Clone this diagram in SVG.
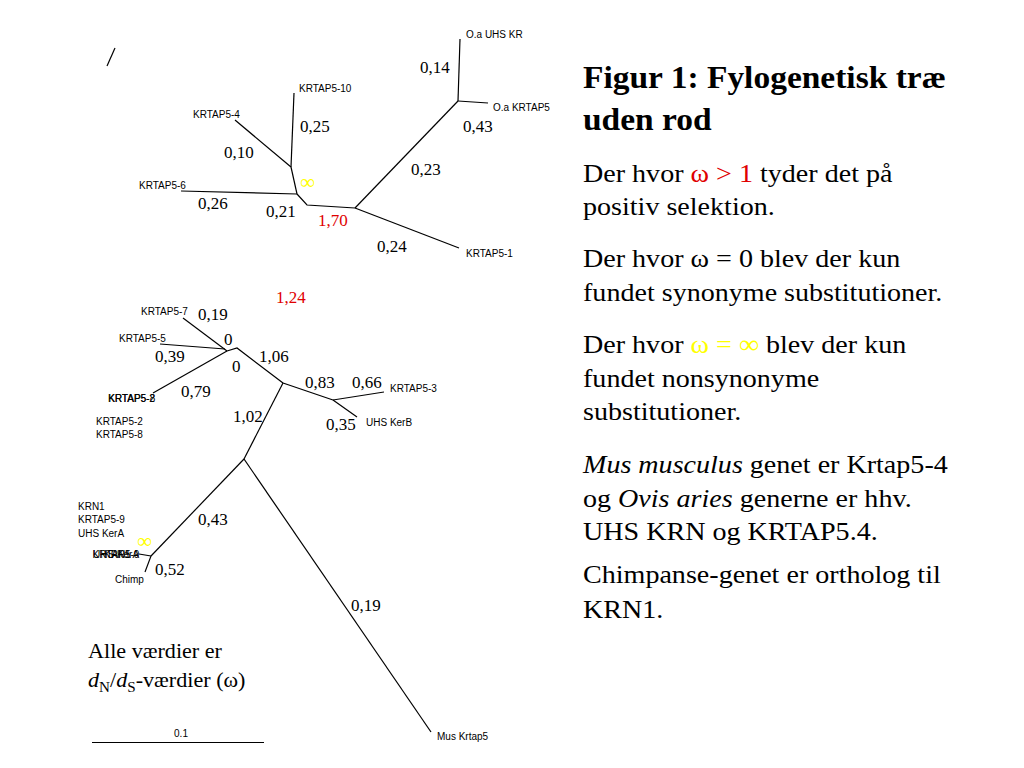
<svg xmlns="http://www.w3.org/2000/svg" width="1024" height="768" viewBox="0 0 1024 768">
<style>
.br{fill:none;stroke:#000;stroke-width:1.2;stroke-linejoin:miter}
.lf{font-family:"Liberation Sans",Arial,sans-serif;font-size:10px;fill:#000}
.num{font-family:"Liberation Serif","Times New Roman",serif;font-size:17px;fill:#000}
.red{fill:#e00000}
.yel{fill:#ffff00}
.inf{font-family:"Liberation Serif","Times New Roman",serif;font-size:21px;fill:#ffff00}
.body{font-family:"Liberation Serif","Times New Roman",serif;font-size:26px;fill:#000}
.title{font-family:"Liberation Serif","Times New Roman",serif;font-size:31px;font-weight:bold;fill:#000}
</style>
<rect width="1024" height="768" fill="#fff"/>

<g id="connectors">
  <line class="br" x1="107" y1="66" x2="115" y2="48"/>
  <!-- top tree -->
  <polyline class="br" points="294,93 291,167"/>
  <polyline class="br" points="235,120 291,167"/>
  <polyline class="br" points="291,167 297,194"/>
  <polyline class="br" points="181,191 297,194"/>
  <polyline class="br" points="297,194 307,205 355,208"/>
  <polyline class="br" points="355,208 458,101"/>
  <polyline class="br" points="458,101 460,39"/>
  <polyline class="br" points="458,101 488,103"/>
  <polyline class="br" points="355,208 459,248"/>
  <!-- bottom tree -->
  <polyline class="br" points="183,318 227,351"/>
  <polyline class="br" points="160,344 225,349"/>
  <polyline class="br" points="153,393 227,351"/>
  <polyline class="br" points="227,351 237,348 283,383"/>
  <polyline class="br" points="283,383 333,400"/>
  <polyline class="br" points="333,400 384,392"/>
  <polyline class="br" points="333,400 357,417"/>
  <polyline class="br" points="283,383 244,459"/>
  <polyline class="br" points="244,459 431,732"/>
  <polyline class="br" points="244,459 151,556"/>
  <polyline class="br" points="139,554 151,556"/>
  <polyline class="br" points="151,556 145,572"/>
  <!-- scale bar -->
  <line class="br" x1="92" y1="742.5" x2="264" y2="742.5"/>
</g>

<g id="edge-labels">
  <text class="num" x="420" y="73">0,14</text>
  <text class="num" x="463" y="132">0,43</text>
  <text class="num" x="411" y="175">0,23</text>
  <text class="num" x="377" y="252">0,24</text>
  <text class="num" x="300" y="132">0,25</text>
  <text class="num" x="224" y="158">0,10</text>
  <text class="num" x="198" y="209">0,26</text>
  <text class="num" x="266" y="217">0,21</text>
  <text class="num red" x="318" y="226">1,70</text>
  <text class="inf" x="300" y="189">∞</text>

  <text class="num red" x="276" y="303">1,24</text>
  <text class="num" x="198" y="320">0,19</text>
  <text class="num" x="224" y="345">0</text>
  <text class="num" x="155" y="362">0,39</text>
  <text class="num" x="232" y="372">0</text>
  <text class="num" x="259" y="362">1,06</text>
  <text class="num" x="181" y="397">0,79</text>
  <text class="num" x="305" y="388">0,83</text>
  <text class="num" x="352" y="388">0,66</text>
  <text class="num" x="326" y="430">0,35</text>
  <text class="num" x="233" y="422">1,02</text>
  <text class="num" x="198" y="525">0,43</text>
  <text class="num" x="155" y="575">0,52</text>
  <text class="num" x="351" y="611">0,19</text>
  <text class="inf" x="137" y="548">∞</text>
</g>

<g id="node-OaUHSKR"><text class="lf" x="466" y="38">O.a UHS KR</text></g>
<g id="node-OaKRTAP5"><text class="lf" x="493" y="111">O.a KRTAP5</text></g>
<g id="node-KRTAP5-1"><text class="lf" x="466" y="257">KRTAP5-1</text></g>
<g id="node-KRTAP5-10"><text class="lf" x="299" y="92">KRTAP5-10</text></g>
<g id="node-KRTAP5-4"><text class="lf" x="193" y="118">KRTAP5-4</text></g>
<g id="node-KRTAP5-6"><text class="lf" x="139" y="189">KRTAP5-6</text></g>

<g id="node-KRTAP5-7"><text class="lf" x="141" y="315">KRTAP5-7</text></g>
<g id="node-KRTAP5-5"><text class="lf" x="119" y="342">KRTAP5-5</text></g>
<g id="node-KRTAP5-8-2">
  <text class="lf" x="108" y="402">KRTAP5-2</text>
  <text class="lf" x="108.4" y="402">KRTAP5-8</text>
</g>
<g id="node-list-2-8">
  <text class="lf" x="96" y="425">KRTAP5-2</text>
  <text class="lf" x="96" y="438">KRTAP5-8</text>
</g>
<g id="node-KRTAP5-3"><text class="lf" x="390" y="392">KRTAP5-3</text></g>
<g id="node-UHSKerB"><text class="lf" x="366" y="426">UHS KerB</text></g>
<g id="node-MusKrtap5"><text class="lf" x="437" y="740">Mus Krtap5</text></g>
<g id="node-list-KRN1">
  <text class="lf" x="78" y="510">KRN1</text>
  <text class="lf" x="78" y="523">KRTAP5-9</text>
  <text class="lf" x="78" y="537">UHS KerA</text>
</g>
<g id="node-KRN1-overlap">
  <text class="lf" x="92.5" y="558">KRTAP5-9</text>
  <text class="lf" x="93" y="558">UHS KerA</text>
  <text class="lf" x="104" y="558">KRN1</text>
</g>
<g id="node-Chimp"><text class="lf" x="115" y="583">Chimp</text></g>

<g id="scale-label"><text class="lf" x="181" y="737" text-anchor="middle">0.1</text></g>

<g id="note" transform="translate(88 0) scale(1.08 1)">
  <text class="body" style="font-size:20.5px" x="0" y="658">Alle værdier er</text>
  <text class="body" style="font-size:20.5px" x="0" y="687"><tspan font-style="italic">d</tspan><tspan font-size="14" dy="5">N</tspan><tspan dy="-5">/</tspan><tspan font-style="italic">d</tspan><tspan font-size="14" dy="5">S</tspan><tspan dy="-5">-værdier (ω)</tspan></text>
</g>

<g id="caption" transform="translate(583 0) scale(1.08 1)">
  <text class="title" x="0" y="88">Figur 1: Fylogenetisk træ</text>
  <text class="title" x="0" y="130">uden rod</text>
  <text class="body" x="0" y="182">Der hvor <tspan class="red">ω &gt; 1</tspan> tyder det på</text>
  <text class="body" x="0" y="215">positiv selektion.</text>
  <text class="body" x="0" y="267">Der hvor ω = 0 blev der kun</text>
  <text class="body" x="0" y="301">fundet synonyme substitutioner.</text>
  <text class="body" x="0" y="353">Der hvor <tspan class="yel">ω = ∞</tspan> blev der kun</text>
  <text class="body" x="0" y="387">fundet nonsynonyme</text>
  <text class="body" x="0" y="420">substitutioner.</text>
  <text class="body" x="0" y="473"><tspan font-style="italic">Mus musculus</tspan> genet er Krtap5-4</text>
  <text class="body" x="0" y="507">og <tspan font-style="italic">Ovis aries</tspan> generne er hhv.</text>
  <text class="body" x="0" y="540">UHS KRN og KRTAP5.4.</text>
  <text class="body" x="0" y="583">Chimpanse-genet er ortholog til</text>
  <text class="body" x="0" y="618">KRN1.</text>
</g>
</svg>
